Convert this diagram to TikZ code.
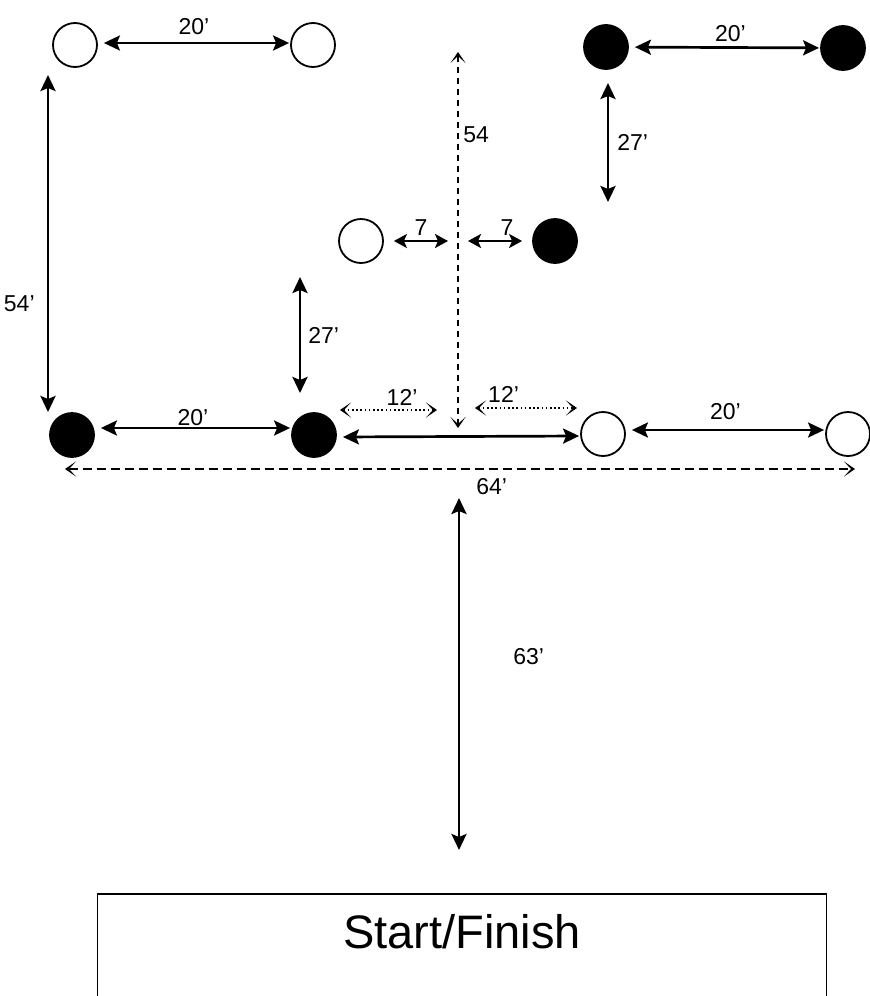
\documentclass[tikz,border=0pt]{standalone}
\usepackage{fontspec}
\setmainfont{Liberation Sans}
\usetikzlibrary{arrows.meta,positioning}
\tikzset{
  tipS/.tip={Stealth[length=16pt,width=15pt,inset=3pt]},
  tipM/.tip={Stealth[length=13pt,width=14pt,inset=3pt]},
  chev/.tip={Stealth[length=11pt,width=15pt,inset=7pt]},
  cone/.style={circle,draw,line width=1.8pt,minimum size=44pt,inner sep=0pt},
  bcone/.style={cone,fill=black},
  dim/.style={line width=2.7pt,tipS-tipS,shorten <=6pt,shorten >=1pt},
  dimv/.style={line width=2.7pt,tipS-tipS},
  dimsm/.style={line width=2.4pt,tipM-tipM,shorten <=10pt,shorten >=10pt},
  dashdim/.style={line width=2.5pt,dash pattern=on 9pt off 5pt,chev-chev},
  dotdim/.style={line width=1.3pt,dash pattern=on 1.6pt off 2.6pt,chev-chev},
  lbl/.style={inner sep=1pt},
  finishbox/.style={draw,line width=1.5pt,minimum width=729pt,inner sep=0pt,
    text height=55pt,text depth=62pt,font=\fontsize{47}{50}\selectfont},
}

\begin{document}
\begin{tikzpicture}[x=1pt,y=-1pt,
  every node/.style={font=\fontsize{23}{26}\selectfont}]
  \useasboundingbox (0,0) rectangle (870,996);
  % cones
  \node[cone]  (wa) at (75,45)  {};
  \node[cone]  (wb) at (313,45) {};
  \node[bcone] (ba) at (606,47) {};
  \node[bcone] (bb) at (843,48) {};
  \node[cone]  (wm) at (361,241) {};
  \node[bcone] (bm) at (555,241) {};
  \node[bcone] (bc) at (72,435)  {};
  \node[bcone] (bd) at (314,435) {};
  \node[cone]  (wc) at (603,434) {};
  \node[cone]  (wd) at (848,434) {};
  % start / finish line
  \node[finishbox,anchor=north] (start) at (462,893) {Start/Finish};
  % free ends of the dimension lines
  \coordinate (v54a) at (48,75);   \coordinate (v54b) at (48,412);
  \coordinate (v27a) at (608,83);  \coordinate (v27b) at (608,202);
  \coordinate (v27c) at (300,277); \coordinate (v27d) at (300,393);
  \coordinate (top54) at (458,52); \coordinate (bot54) at (458,428);
  \coordinate (axis) at (458,241);
  \coordinate (d12a) at (340,410); \coordinate (d12b) at (437,410);
  \coordinate (d12c) at (475,408); \coordinate (d12d) at (577,408);
  \coordinate (h64a) at (65,469);  \coordinate (h64b) at (855,469);
  \coordinate (v63a) at (459,498); \coordinate (v63b) at (459,850);
  % top row
  \draw[dim] ([yshift=2pt]wa.east) -- node[lbl,above=6pt]{20’} ([yshift=2pt]wb.west);
  \draw[dim] (ba) -- node[lbl,above=3pt,xshift=6pt]{20’} (bb);
  \draw[dimv] (v27a) -- node[lbl,right=7pt]{27’} (v27b);
  \draw[dimv] (v54a) -- node[lbl,left=11pt,pos=.68]{54’} (v54b);
  % centre line
  \draw[dashdim,dash pattern=on 6pt off 5pt] (top54) -- node[lbl,right=3pt,pos=.22]{54} (bot54);
  \draw[dimsm] (wm) -- node[lbl,above=3pt]{7} (axis);
  \draw[dimsm] (axis) -- node[lbl,above=3pt,xshift=12pt]{7} (bm);
  % bottom row
  \draw[dimv] (v27c) -- node[lbl,right=6pt]{27’} (v27d);
  \draw[dim] ([yshift=7pt]bc.east) -- node[lbl,above=0pt]{20’} ([yshift=7pt]bd.west);
  \draw[dim] ([yshift=-2pt]bd.east) -- ([yshift=-2pt]wc.west);
  \draw[dotdim] (d12a) -- node[lbl,above=3pt,pos=.64]{12’} (d12b);
  \draw[dotdim] (d12c) -- node[lbl,above=4pt,pos=.28]{12’} (d12d);
  \draw[dim] ([yshift=4pt]wc.east) -- node[lbl,above=8pt]{20’} ([yshift=4pt]wd.west);
  \draw[dashdim] (h64a) -- node[lbl,below=7pt,pos=.54]{64’} (h64b);
  \draw[dimv] (v63a) -- node[lbl,right=52pt,pos=.45]{63’} (v63b);
\end{tikzpicture}
\end{document}
